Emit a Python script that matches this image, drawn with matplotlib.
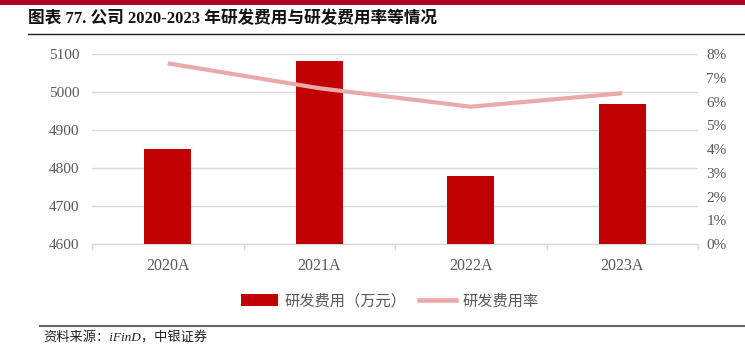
import matplotlib
matplotlib.use("Agg")
import matplotlib.pyplot as plt
from matplotlib.lines import Line2D
from matplotlib.patches import Patch, Rectangle
from matplotlib.ticker import FuncFormatter, MultipleLocator, FixedLocator

categories = ["2020A", "2021A", "2022A", "2023A"]
rd_expense = [4850, 5083, 4779, 4968]          # 万元
rd_rate = [0.0762, 0.0657, 0.0579, 0.0636]      # 研发费用率

title = "图表 77. 公司 2020-2023 年研发费用与研发费用率等情况"
source = "资料来源：iFinD，中银证券"
legend_bar = "研发费用（万元）"
legend_line = "研发费用率"

SERIF = ["Liberation Serif", "Noto Sans CJK SC"]
CJK = ["Noto Sans CJK SC", "DejaVu Sans"]
GRAY = "#595959"

fig = plt.figure(figsize=(7.45, 3.59), dpi=100)
W, H = 745, 359

# top red band
fig.patches.append(Rectangle((0, 1 - 4.5 / H), 1, 4.5 / H, transform=fig.transFigure,
                             facecolor="#AE0025", edgecolor="none"))
fig.text(28 / W, 1 - 18.5 / H, title, fontsize=12, fontweight="bold",
         family=SERIF, va="center", ha="left", color="#111111")
fig.add_artist(Line2D([28 / W, 1], [1 - 34 / H, 1 - 34 / H], color="#222222", lw=1.0,
                      transform=fig.transFigure))

ax = fig.add_axes([92 / W, 1 - 244 / H, 606 / W, (244 - 54.3) / H])
x = list(range(len(categories)))
ax.bar(x, rd_expense, width=0.31, color="#C00000", zorder=3, label=legend_bar)
ax.set_ylim(4600, 5100)
ax.set_xlim(-0.5, len(categories) - 0.5)
ax.yaxis.set_major_locator(MultipleLocator(100))
ax.grid(axis="y", color="#D9D9D9", lw=1.0, zorder=0)
for s in ["top", "right", "left"]:
    ax.spines[s].set_visible(False)
ax.spines["bottom"].set_color("#D9D9D9")
ax.spines["bottom"].set_linewidth(1.0)
ax.set_xticks(x)
ax.set_xticklabels(categories)
ax.xaxis.set_minor_locator(FixedLocator([i - 0.5 for i in range(len(categories) + 1)]))
ax.tick_params(axis="x", which="major", length=0, pad=10, labelsize=11.5, labelcolor=GRAY)
ax.tick_params(axis="x", which="minor", length=4.5, color="#D9D9D9", width=1.0)
ax.tick_params(axis="y", length=0, pad=9, labelsize=11, labelcolor=GRAY)
for lbl in ax.get_xticklabels() + ax.get_yticklabels():
    lbl.set_family(SERIF)

ax2 = ax.twinx()
ax2.plot(x, rd_rate, color="#EBA9A9", lw=3.0, solid_capstyle="butt", zorder=4)
ax2.set_ylim(0, 0.08)
ax2.yaxis.set_major_locator(MultipleLocator(0.01))
ax2.yaxis.set_major_formatter(FuncFormatter(lambda v, p: f"{round(v * 100):d}%"))
ax2.tick_params(axis="y", length=0, pad=6, labelsize=11, labelcolor=GRAY)
for s in ["top", "right", "left", "bottom"]:
    ax2.spines[s].set_visible(False)
for lbl in ax2.get_yticklabels():
    lbl.set_family(SERIF)

handles = [Patch(facecolor="#C00000", edgecolor="none"),
           Line2D([0], [0], color="#EBA9A9", lw=3.3)]
leg = fig.legend(handles, [legend_bar, legend_line], loc="center",
                 bbox_to_anchor=(390 / W, 1 - 301 / H), ncol=2, frameon=False,
                 prop={"family": CJK, "size": 11, "weight": "light"},
                 handlelength=2.4, handleheight=0.8,
                 columnspacing=0.8, handletextpad=0.45)
for t in leg.get_texts():
    t.set_color(GRAY)

fig.add_artist(Line2D([40 / W, 1], [1 - 326 / H, 1 - 326 / H], color="#666666", lw=1.5,
                      transform=fig.transFigure))
fig.text(43 / W, 1 - 338 / H, source, fontsize=9.5, style="italic",
         family=["Liberation Serif", "Noto Sans CJK SC"], va="center", ha="left",
         color="#222222")

fig.savefig("out.png", dpi=100)
